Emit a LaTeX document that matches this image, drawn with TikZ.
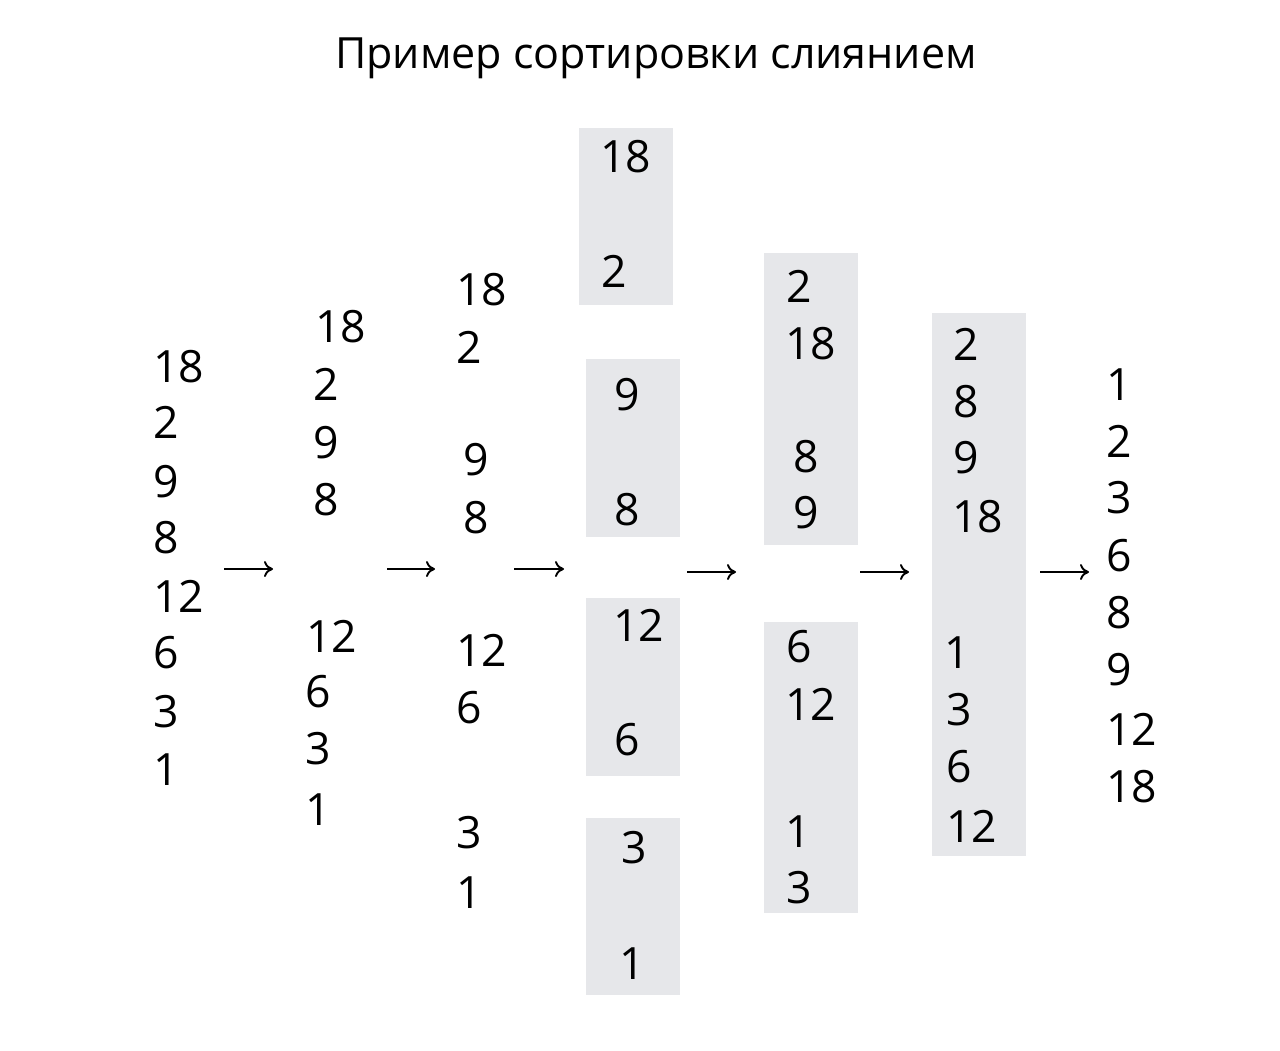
\documentclass[tikz,border=0pt]{standalone}
\usepackage{fontspec}
\setmainfont{Open Sans}
\usetikzlibrary{arrows.meta}
\definecolor{boxgray}{RGB}{230,231,234}
\begin{document}
\begin{tikzpicture}[x=1pt,y=-1pt,
  num/.style={anchor=base west,inner sep=0pt,font=\fontsize{44.5}{52}\selectfont},
  ttl/.style={anchor=base,inner sep=0pt,font=\fontsize{43}{52}\selectfont},
  grp/.style={fill=boxgray,draw=none},
  arr/.style={line width=1.9pt,-{To[length=9pt,width=16pt,line width=1.9pt]}}]
\useasboundingbox (0,0) rectangle (1280,1050);
\fill[white] (0,0) rectangle (1280,1050);
\node[ttl] (title) at (656,68) {Пример сортировки слиянием};
% boxes
\fill[grp] (579,128) rectangle (673,305);
\fill[grp] (586,359) rectangle (680,537);
\fill[grp] (586,598) rectangle (680,776);
\fill[grp] (586,818) rectangle (680,995);
\fill[grp] (764,253) rectangle (858,545);
\fill[grp] (764,622) rectangle (858,913);
\fill[grp] (932,313) rectangle (1026,856);
% column 1
\node[num] (a1) at (153,382) {18};
\node[num] (a2) at (153,438) {2};
\node[num] (a3) at (153,497) {9};
\node[num] (a4) at (153,553) {8};
\node[num] (a5) at (153,612) {12};
\node[num] (a6) at (153,668) {6};
\node[num] (a7) at (153,727) {3};
\node[num] (a8) at (153,785) {1};
% column 2
\node[num] (b1) at (315,342) {18};
\node[num] (b2) at (313,400) {2};
\node[num] (b3) at (313,458) {9};
\node[num] (b4) at (313,515) {8};
\node[num] (b5) at (306,652) {12};
\node[num] (b6) at (305,707) {6};
\node[num] (b7) at (305,764) {3};
\node[num] (b8) at (305,825) {1};
% column 3
\node[num] (c1) at (456,305) {18};
\node[num] (c2) at (456,363) {2};
\node[num] (c3) at (463,475) {9};
\node[num] (c4) at (463,533) {8};
\node[num] (c5) at (456,666) {12};
\node[num] (c6) at (456,723) {6};
\node[num] (c7) at (456,848) {3};
\node[num] (c8) at (456,908) {1};
% column 4
\node[num] (d1) at (600,172) {18};
\node[num] (d2) at (601,287) {2};
\node[num] (d3) at (614,410) {9};
\node[num] (d4) at (614,525) {8};
\node[num] (d5) at (613,641) {12};
\node[num] (d6) at (614,755) {6};
\node[num] (d7) at (621,863) {3};
\node[num] (d8) at (619,979) {1};
% column 5
\node[num] (e1) at (786,302) {2};
\node[num] (e2) at (785,359) {18};
\node[num] (e3) at (793,472) {8};
\node[num] (e4) at (793,528) {9};
\node[num] (e5) at (786,662) {6};
\node[num] (e6) at (785,720) {12};
\node[num] (e7) at (785,847) {1};
\node[num] (e8) at (786,903) {3};
% column 6
\node[num] (f1) at (953,360) {2};
\node[num] (f2) at (953,417) {8};
\node[num] (f3) at (953,473) {9};
\node[num] (f4) at (952,532) {18};
\node[num] (f5) at (944,668) {1};
\node[num] (f6) at (946,725) {3};
\node[num] (f7) at (946,782) {6};
\node[num] (f8) at (946,842) {12};
% column 7
\node[num] (g1) at (1106,400) {1};
\node[num] (g2) at (1106,457) {2};
\node[num] (g3) at (1106,513) {3};
\node[num] (g4) at (1106,571) {6};
\node[num] (g5) at (1106,628) {8};
\node[num] (g6) at (1106,685) {9};
\node[num] (g7) at (1106,745) {12};
\node[num] (g8) at (1106,802) {18};
% arrows
\coordinate (p1s) at (224,569); \coordinate (p1e) at (273,569);
\coordinate (p2s) at (387,569); \coordinate (p2e) at (435,569);
\coordinate (p3s) at (514,569); \coordinate (p3e) at (564,569);
\coordinate (p4s) at (687,572); \coordinate (p4e) at (736,572);
\coordinate (p5s) at (860,572); \coordinate (p5e) at (909,572);
\coordinate (p6s) at (1040,572); \coordinate (p6e) at (1089,572);
\draw[arr] (p1s) -- (p1e);
\draw[arr] (p2s) -- (p2e);
\draw[arr] (p3s) -- (p3e);
\draw[arr] (p4s) -- (p4e);
\draw[arr] (p5s) -- (p5e);
\draw[arr] (p6s) -- (p6e);
\end{tikzpicture}
\end{document}
